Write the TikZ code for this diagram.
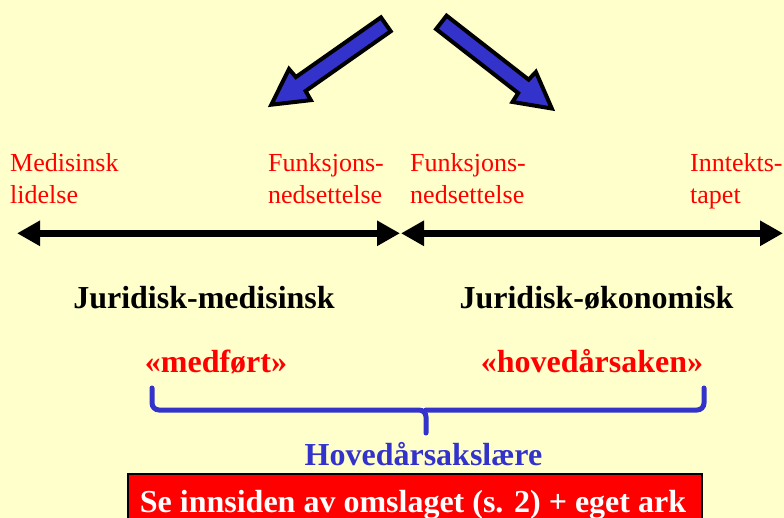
\documentclass[tikz,border=0pt]{standalone}
\usepackage{fontspec}
\setmainfont{Liberation Serif}
\usetikzlibrary{arrows.meta}
\definecolor{bgyellow}{HTML}{FFFFCC}
\definecolor{arrowblue}{HTML}{3333CC}
\definecolor{labelred}{HTML}{FF0000}
\begin{document}
\begin{tikzpicture}[x=1pt,y=-1pt,
  redlabel/.style={text=labelred, font=\fontsize{26}{31.6}\selectfont, inner sep=0pt, anchor=base west},
  boldlabel/.style={font=\fontsize{32}{38}\selectfont\bfseries, inner sep=0pt, anchor=base},
  bluearrow/.style={fill=arrowblue, draw=black, line width=4pt, line join=miter},
  axisline/.style={line width=7pt, {Triangle[length=23pt,width=24pt]}-{Triangle[length=23pt,width=24pt]}},
  bracestyle/.style={draw=arrowblue, line width=5pt, line cap=round, rounded corners=7pt}]
\fill[bgyellow] (0,0) rectangle (784,518);
\useasboundingbox (0,0) rectangle (784,518);
\clip (0,0) rectangle (784,518);

% blue arrows
\begin{scope}[shift={(271.3,104.7)}, x={(0.818pt,0.574pt)}, y={(0.574pt,-0.818pt)}]
  \draw[bluearrow] (0,0) -- (35,19) -- (36,8.5) -- (140,8.5) -- (140,-8.5) -- (36,-8.5) -- (35,-19) -- cycle;
\end{scope}
\begin{scope}[shift={(551.8,108.5)}, x={(-0.789pt,0.615pt)}, y={(0.615pt,0.789pt)}]
  \draw[bluearrow] (0,0) -- (35,19) -- (36,8.5) -- (140,8.5) -- (140,-8.5) -- (36,-8.5) -- (35,-19) -- cycle;
\end{scope}

% red labels
\node[redlabel] (med) at (10,172) {\begin{tabular}[t]{@{}l@{}}Medisinsk\\lidelse\end{tabular}};
\node[redlabel] (funk1) at (268,172) {\begin{tabular}[t]{@{}l@{}}Funksjons-\\nedsettelse\end{tabular}};
\node[redlabel] (funk2) at (410,172) {\begin{tabular}[t]{@{}l@{}}Funksjons-\\nedsettelse\end{tabular}};
\node[redlabel] (inn) at (690,172) {\begin{tabular}[t]{@{}l@{}}Inntekts-\\tapet\end{tabular}};

% axis arrows
\coordinate (l1) at (17,233.3);
\coordinate (m1) at (400,233.3);
\coordinate (m2) at (401,233.3);
\coordinate (r1) at (783,233.3);
\draw[axisline] (l1) -- (m1);
\draw[axisline] (m2) -- (r1);

% bold labels
\node[boldlabel] (jmed) at (204,309) {Juridisk-medisinsk};
\node[boldlabel] (jok) at (596.5,309) {Juridisk-økonomisk};
\node[boldlabel, text=labelred] (medf) at (216,373) {«medført»};
\node[boldlabel, text=labelred] (hoved) at (592,373) {«hovedårsaken»};

% brace
\draw[bracestyle] (152,388) |- (426,410) -- (426,433);
\draw[bracestyle] (704,388) |- (426,410);

\node[boldlabel, text=arrowblue] (laere) at (423.5,465) {Hovedårsakslære};

% red box
\draw[line width=2pt, fill=labelred] (128,474) rectangle (702,540);
\node[boldlabel, text=white] (boxtext) at (413,512) {Se innsiden av omslaget (s. 2) + eget ark};
\end{tikzpicture}
\end{document}
